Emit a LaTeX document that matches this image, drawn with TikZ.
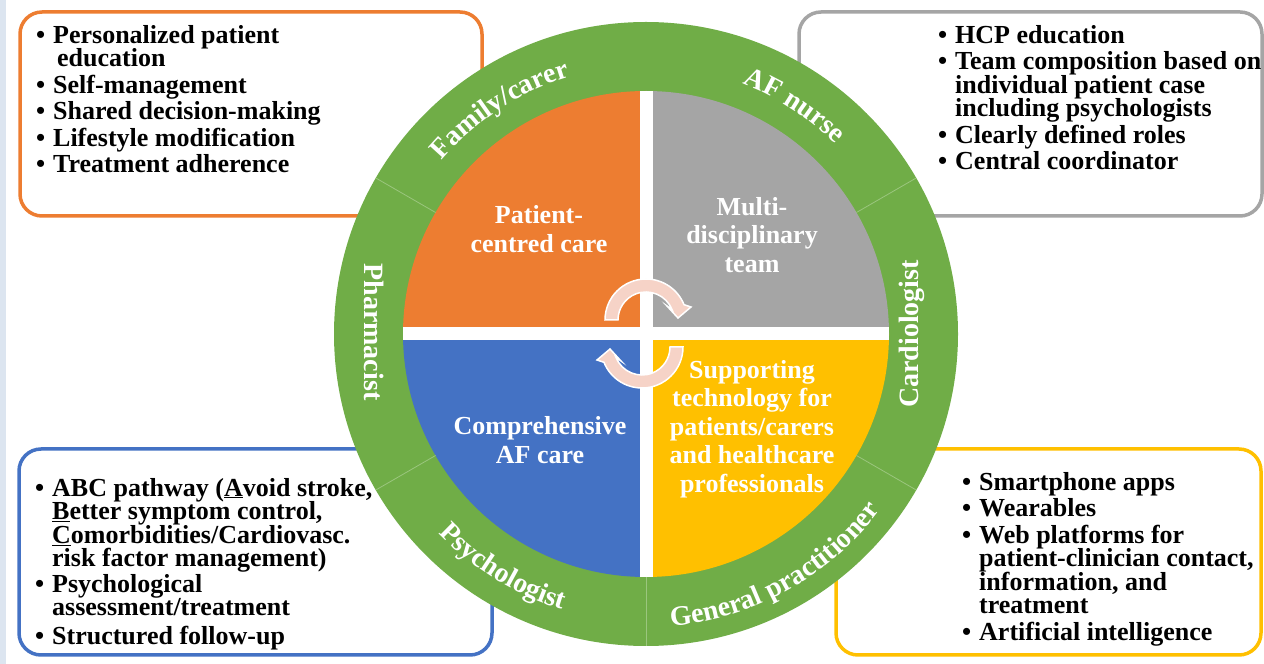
\documentclass[tikz,border=0pt]{standalone}
\usepackage{fontspec}
\setmainfont{Liberation Serif}
\usepackage{xcolor}
\usepackage{tikz}
\usetikzlibrary{decorations.text}
\definecolor{ringgreen}{HTML}{70AD47}
\definecolor{pccorange}{HTML}{ED7D31}
\definecolor{mdtgray}{HTML}{A5A5A5}
\definecolor{cafblue}{HTML}{4472C4}
\definecolor{techgold}{HTML}{FFC000}
\definecolor{cyclepink}{HTML}{F6D3C7}
\definecolor{edgeblue}{HTML}{DCE5F0}
\newcommand{\ringfont}{\fontsize{28}{30}\selectfont\bfseries}
\newcommand{\listfont}{\fontsize{26}{23.5}\selectfont\bfseries\lineskiplimit=-20pt\relax}
\newcommand{\itm}{\llap{\textbullet\hspace{8pt}}}

\begin{document}
\begin{tikzpicture}[x=1pt, y=1pt,
  listbox/.style={line width=3.5pt, rounded corners=22pt, fill=white},
  boxtext/.style={anchor=north west, inner sep=0pt, align=left, font=\listfont},
  quadtext/.style={inner sep=0pt, align=center, text=white, font=\fontsize{26}{28.5}\selectfont\bfseries},
  ringtext/.style={inner sep=0pt, text=white, font=\ringfont},
  ringarc/.style={decorate, decoration={text along path, text align=center, text color=white, text={|\ringfont|#1}}},
  cyclearrow/.style={fill=cyclepink, draw=white, line width=1.5pt}]
\useasboundingbox (0,0) rectangle (1264,664);
\fill[edgeblue] (0,0) rectangle (6,664);
% —— 四个要点框 ——
\draw[listbox, draw=pccorange] (20,448) rectangle (482,652);
\draw[listbox, draw=mdtgray] (799,448) rectangle (1262,652);
\draw[listbox, draw=cafblue] (19,9) rectangle (492,215);
\draw[listbox, draw=techgold] (836,9) rectangle (1261,215);
\node[boxtext] (pcclist) at (53,639) {\itm Personalized patient\\\hspace*{4pt}education\\[3pt]
  \itm Self-management\\[3pt]\itm Shared decision-making\\[3pt]\itm Lifestyle modification\\[3pt]
  \itm Treatment adherence};
\node[boxtext] (mdtlist) at (955,639) {\itm HCP education\\[3pt]\itm Team composition based on\\
  individual patient case\\including psychologists\\[3pt]\itm Clearly defined roles\\[3pt]
  \itm Central coordinator};
\node[boxtext] (caflist) at (52,186) {\itm ABC pathway (\underline{A}void stroke,\\
  \underline{B}etter symptom control,\\\underline{C}omorbidities/Cardiovasc.\\
  risk factor management)\\[2pt]\itm Psychological\\assessment/treatment\\[5pt]
  \itm Structured follow-up};
\node[boxtext] (techlist) at (979,192) {\itm Smartphone apps\\[3pt]\itm Wearables\\[3pt]
  \itm Web platforms for\\patient-clinician contact,\\information, and\\treatment\\[3pt]
  \itm Artificial intelligence};
% —— 外环与四象限 ——
\begin{scope}[shift={(646,330)}]
  \fill[ringgreen] (0,0) circle[radius=312pt];
  \fill[mdtgray] (0,0) -- (0:243pt) arc[start angle=0, end angle=90, radius=243pt] -- cycle;
  \fill[pccorange] (0,0) -- (90:243pt) arc[start angle=90, end angle=180, radius=243pt] -- cycle;
  \fill[cafblue] (0,0) -- (180:243pt) arc[start angle=180, end angle=270, radius=243pt] -- cycle;
  \fill[techgold] (0,0) -- (270:243pt) arc[start angle=270, end angle=360, radius=243pt] -- cycle;
  \fill[white] (-6.5,-243) rectangle (6.5,243);
  \fill[white] (-243,-6.5) rectangle (243,6.5);
  % 环上分隔线
  \foreach \a in {30,150,210,270,330}
    \draw[ringgreen!70!white, line width=0.8pt] (\a:243pt) -- (\a:312pt);
  % 中心循环箭头
  \foreach \dx/\dy/\r in {0/14/0, -4/-13/180}
    \filldraw[cyclearrow, shift={(\dx,\dy)}, rotate=\r] (180:41pt) arc[start angle=180, end angle=22, radius=41pt]
      -- (45,13) -- (32,2) -- (21,14) -- (22:28pt) arc[start angle=22, end angle=180, radius=28pt] -- cycle;
  % 环上弧形文字
  \path[ringarc=Family/carer] (165:268pt) arc[start angle=165, end angle=81, radius=268pt];
  \path[ringarc=AF nurse] (99:268pt) arc[start angle=99, end angle=15, radius=268pt];
  \path[ringarc=Psychologist] (200:288pt) arc[start angle=200, end angle=277, radius=288pt];
  \path[ringarc=General practitioner] (260:293pt) arc[start angle=260, end angle=338, radius=293pt];
\end{scope}
\node[ringtext, rotate=90] (cardio) at (912,330) {Cardiologist};
\node[ringtext, rotate=-90] (pharm) at (374,332) {Pharmacist};
% —— 象限标题 ——
\node[quadtext] (pcc) at (539,435) {Patient-\\centred care};
\node[quadtext] (mdt) at (752,429) {Multi-\\disciplinary\\team};
\node[quadtext] (cafc) at (540,224) {Comprehensive\\AF care};
\node[quadtext] (stech) at (752,235) {Supporting\\technology for\\patients/carers\\and healthcare\\professionals};
\end{tikzpicture}
\end{document}
